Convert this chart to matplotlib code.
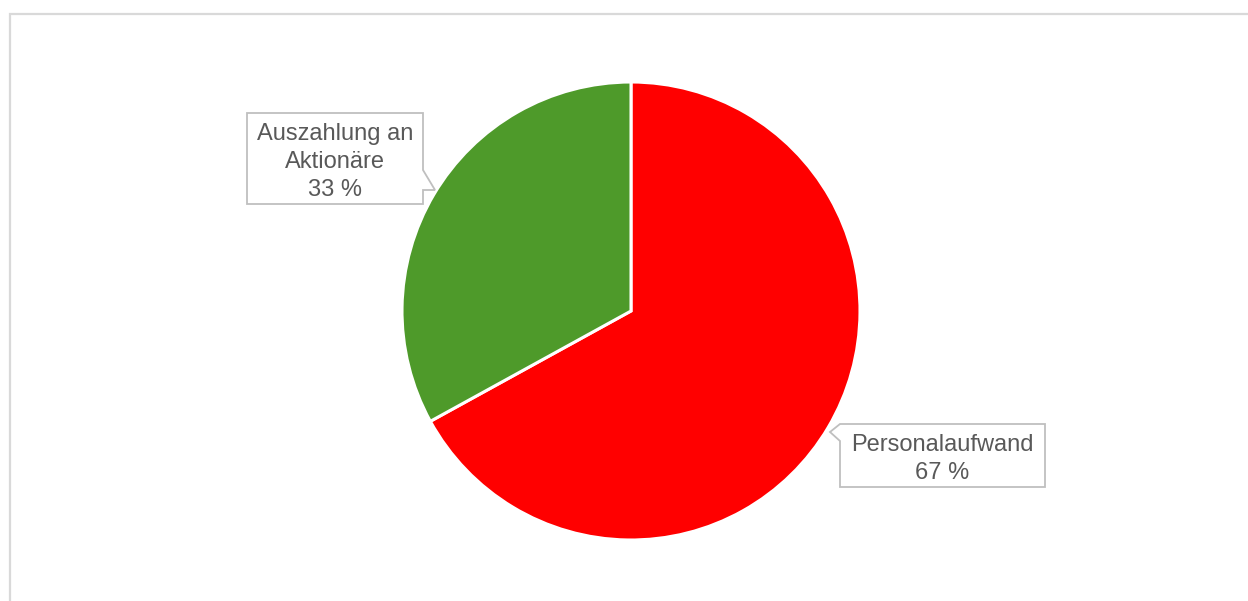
import matplotlib
matplotlib.use("Agg")
import matplotlib.pyplot as plt
from matplotlib.patches import Polygon

labels = ["Personalaufwand", "Auszahlung an\nAktionäre"]
values = [67, 33]
colors = ["#ff0000", "#4e9a2a"]

W, H = 1248, 601
fig = plt.figure(figsize=(W / 100, H / 100), dpi=100)
ax = fig.add_axes([0, 0, 1, 1])
ax.set_xlim(0, W)
ax.set_ylim(0, H)
ax.set_aspect("equal")
ax.axis("off")

def Y(y):
    return H - y

# frame
ax.plot([10, 10, 1247], [Y(601), Y(14), Y(14)], color="#d9d9d9", lw=1.6,
        solid_joinstyle="miter")

cx, cy, r = 631, Y(311), 229
ax.pie(values, colors=colors, startangle=90, counterclock=False,
       center=(cx, cy), radius=r, frame=True,
       wedgeprops=dict(edgecolor="white", linewidth=2.2))
ax.set_xlim(0, W)
ax.set_ylim(0, H)
ax.axis("off")

txt_color = "#595959"
box_ec = "#bfbfbf"
fs = 17

# green callout
poly1 = [(247, 113), (423, 113), (423, 170), (435, 190), (423, 190),
         (423, 204), (247, 204)]
ax.add_patch(Polygon([(x, Y(y)) for x, y in poly1], closed=True,
                     facecolor="white", edgecolor=box_ec, lw=1.3, zorder=5))
ax.text(335, Y(162), f"{labels[1]}\n{values[1]} %", ha="center", va="center",
        fontsize=fs, color=txt_color, family="Liberation Sans",
        linespacing=1.33, zorder=6)

# red callout
poly2 = [(840, 424), (1045, 424), (1045, 487), (840, 487), (840, 441),
         (830, 432)]
ax.add_patch(Polygon([(x, Y(y)) for x, y in poly2], closed=True,
                     facecolor="white", edgecolor=box_ec, lw=1.3, zorder=5))
ax.text(942, Y(459), f"{labels[0]}\n{values[0]} %", ha="center", va="center",
        fontsize=fs, color=txt_color, family="Liberation Sans",
        linespacing=1.33, zorder=6)

fig.savefig("out.png", dpi=100, facecolor="white")
